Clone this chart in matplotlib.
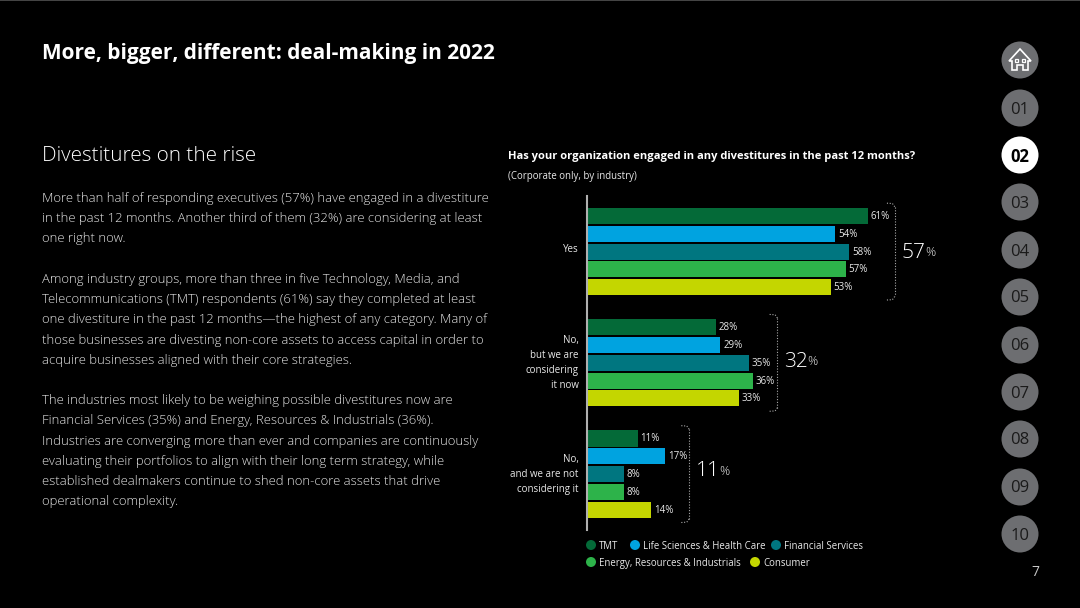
import matplotlib.pyplot as plt
from matplotlib.patches import Circle, Polygon, Rectangle

plt.rcParams["font.family"] = ["Open Sans", "DejaVu Sans"]

groups = ["Yes", "No,\nbut we are\nconsidering\nit now", "No,\nand we are not\nconsidering it"]
industries = [
    "TMT",
    "Life Sciences & Health Care",
    "Financial Services",
    "Energy, Resources & Industrials",
    "Consumer",
]
colors = ["#046a38", "#00a3e0", "#007680", "#2db34a", "#c4d600"]
# bar lengths as drawn in the picture (a couple differ slightly from their labels)
lengths = [
    [61, 54, 57, 56.2, 53],
    [28, 29, 35.2, 36, 33],
    [11, 17, 8, 8, 14],
]
labels = [
    [61, 54, 58, 57, 53],
    [28, 29, 35, 36, 33],
    [11, 17, 8, 8, 14],
]
totals = [57, 32, 11]

title = "More, bigger, different: deal-making in 2022"
heading = "Divestitures on the rise"
body_lines = [
    (198, "More than half of responding executives (57%) have engaged in a divestiture"),
    (218, "in the past 12 months. Another third of them (32%) are considering at least"),
    (238, "one right now."),
    (279, "Among industry groups, more than three in five Technology, Media, and"),
    (299, "Telecommunications (TMT) respondents (61%) say they completed at least"),
    (319, "one divestiture in the past 12 months\u2014the highest of any category. Many of"),
    (340, "those businesses are divesting non-core assets to access capital in order to"),
    (360, "acquire businesses aligned with their core strategies."),
    (400, "The industries most likely to be weighing possible divestitures now are"),
    (420, "Financial Services (35%) and Energy, Resources & Industrials (36%)."),
    (441, "Industries are converging more than ever and companies are continuously"),
    (461, "evaluating their portfolios to align with their long term strategy, while"),
    (481, "established dealmakers continue to shed non-core assets that drive"),
    (501, "operational complexity."),
]
nav_labels = ["01", "02", "03", "04", "05", "06", "07", "08", "09", "10"]
nav_y = [108, 155, 202, 250, 297, 345, 392, 439, 487, 534]

W, H = 1080, 608
fig = plt.figure(figsize=(W / 100, H / 100), dpi=100, facecolor="black")

# full page overlay in pixel coordinates
page = fig.add_axes([0, 0, 1, 1])
page.set_xlim(0, W)
page.set_ylim(H, 0)
page.axis("off")
page.add_patch(Rectangle((0, 0), W, 1, color="#444444", lw=0))

page.text(42, 53, title, color="white", fontsize=15.03, fontweight="bold", va="center")
page.text(42, 156, heading, color="white", fontsize=14.9, fontweight="light", va="center")
for y, line in body_lines:
    page.text(42, y + 0.5, line, color="#e4e4e4", fontsize=9.44, fontweight="light", va="center")

page.text(508, 156.5, "Has your organization engaged in any divestitures in the past 12 months?",
          color="white", fontsize=8.03, fontweight="bold", va="center")
page.text(508, 176, "(Corporate only, by industry)", color="#e8e8e8", fontsize=6.9, va="center")

# bar chart
left, right, top, bottom = 587, 955, 196, 530
ax = fig.add_axes([left / W, 1 - bottom / H, (right - left) / W, (bottom - top) / H])
ax.patch.set_alpha(0)
step = 17.8
ax.set_xlim(0, (right - left) / 4.6)
ax.set_ylim((bottom - 216) / step, (top - 216) / step)
ax.set_xticks([])
ax.set_yticks([])
for s in ["top", "right", "bottom"]:
    ax.spines[s].set_visible(False)
ax.spines["left"].set_color("#b0b0b0")
ax.spines["left"].set_linewidth(1.5)

n = len(industries)
gap = 1.25
bracket_pad = [5.9, 5.4, 5.2]
group_nudge = [1.5, 0, 0]
total_nudge = [-0.8, 0.8, 2]
dots = (0, (1, 1.5))
for g, row in enumerate(lengths):
    start = g * (n + gap)
    for i, v in enumerate(row):
        ax.barh(start + i, v, height=0.9, color=colors[i], linewidth=0)
        ax.annotate(f"{labels[g][i]}%", (v, start + i), xytext=(2, -0.3), textcoords="offset points",
                    color="#e8e8e8", fontsize=7, va="center")
    # dotted bracket + group total
    cy = start + (n - 1) / 2
    bx = max(row) + bracket_pad[g]
    hw = 2.72
    ax.plot([bx, bx], [cy - hw + 0.2, cy + hw - 0.2], color="#aaaaaa", lw=0.8, ls=dots)
    ax.plot([bx - 1.7, bx - 0.5, bx], [cy - hw, cy - hw + 0.02, cy - hw + 0.2], color="#aaaaaa", lw=0.8, ls=dots)
    ax.plot([bx - 1.7, bx - 0.5, bx], [cy + hw, cy + hw - 0.02, cy + hw - 0.2], color="#aaaaaa", lw=0.8, ls=dots)
    t = ax.annotate(str(totals[g]), (bx, cy), xytext=(5, total_nudge[g]), textcoords="offset points",
                    color="white", fontsize=15, fontweight="light", va="center")
    ax.annotate("%", (1, 0), xycoords=t, xytext=(-0.5, 2.5), textcoords="offset points",
                color="#e8e8e8", fontsize=9, fontweight="light", va="bottom")
    ax.annotate(groups[g], (0, cy), xytext=(-6, group_nudge[g]), textcoords="offset points",
                color="#e8e8e8", fontsize=7, va="center", ha="right", linespacing=1.5,
                annotation_clip=False)

# legend
legend_pos = [(591, 545), (635, 545), (776, 545), (591, 562), (755, 562)]
for (x, y), name, c in zip(legend_pos, industries, colors):
    page.add_patch(Circle((x, y), 5, color=c, lw=0))
    page.text(x + 8, y, name, color="#e8e8e8", fontsize=6.95, va="center_baseline")

# navigation
R = 18.5
page.add_patch(Circle((1020, 60), R, color="#6d6e71", lw=0))
page.add_patch(Polygon([(1009, 61), (1020, 49), (1031, 61), (1028, 61), (1028, 70), (1023, 70),
                        (1023, 65), (1017, 65), (1017, 70), (1012, 70), (1012, 61)],
                       closed=True, fill=False, ec="white", lw=1.2))
page.add_patch(Rectangle((1015, 59), 3, 3, fill=False, ec="white", lw=0.9))
page.add_patch(Rectangle((1022, 59), 3, 3, fill=False, ec="white", lw=0.9))
for label, y in zip(nav_labels, nav_y):
    active = label == "02"
    page.add_patch(Circle((1020, y), R, color="white" if active else "#6d6e71", lw=0))
    page.text(1020, y + 1.5, label, color="black" if active else "#1a1a1a", fontsize=12,
              fontweight="bold" if active else "normal", ha="center", va="center")
page.text(1035, 572, "7", color="#c8c8c8", fontsize=10, ha="center", va="center")

fig.savefig("out.png", dpi=100, facecolor="black")
